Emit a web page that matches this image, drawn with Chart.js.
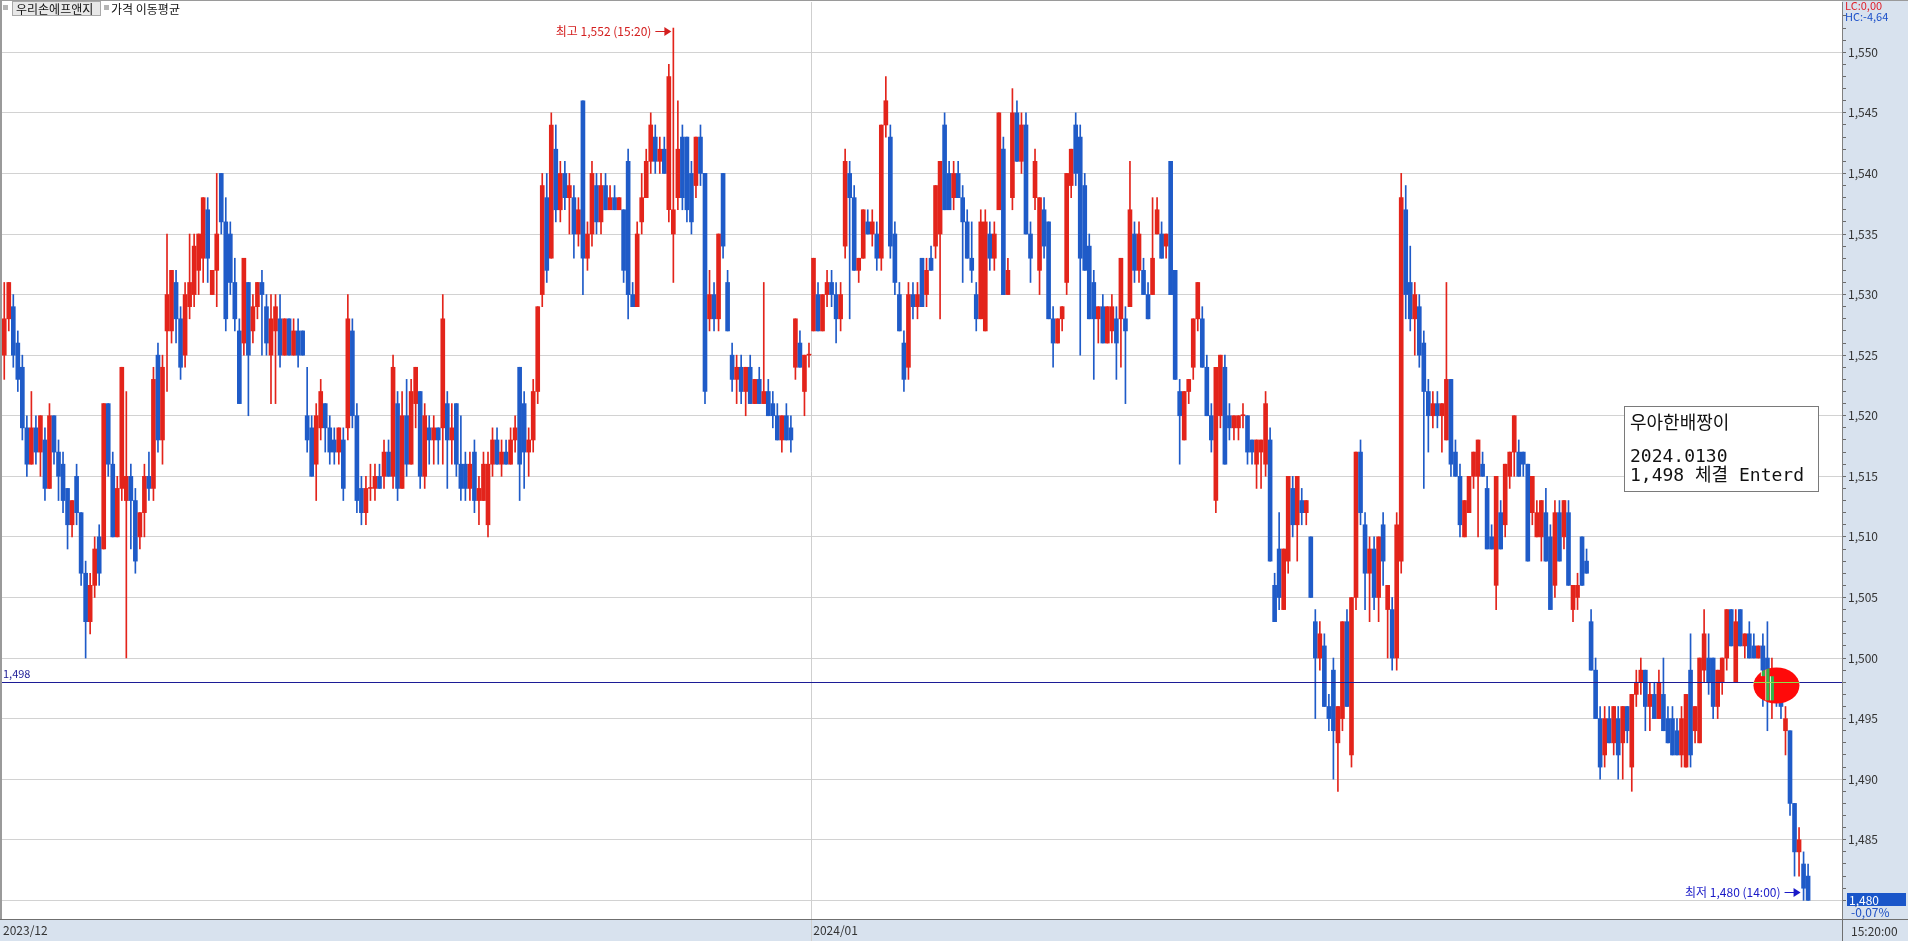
<!DOCTYPE html>
<html>
<head>
<meta charset="utf-8">
<title>우리손에프앤지</title>
<script src="https://cdn.jsdelivr.net/npm/chart.js@4.4.1/dist/chart.umd.min.js"></script>
<style>
  html, body { margin: 0; padding: 0; background: #fff; overflow: hidden; }
  canvas { display: block; }
</style>
</head>
<body>
<canvas id="myChart" width="1908" height="941"></canvas>
<script>
// candle data, one value per bar
const opens = [
  1525,1528,1529,1526,1524,1519,1516,1519,1517,1518,
  1514,1520,1517,1516,1514,1511,1515,1512,1507,1503,
  1506,1510,1509,1521,1516,1510,1514,1513,1515,1513,
  1510,1512,1515,1514,1525,1518,1527,1527,1531,1528,
  1525,1529,1530,1532,1533,1537,1530,1532,1540,1536,
  1535,1531,1527,1526,1531,1527,1529,1531,1529,1525,
  1527,1528,1525,1528,1525,1527,1527,1520,1519,1516,
  1519,1521,1519,1518,1517,1518,1519,1527,1520,1514,
  1512,1514,1514,1515,1515,1517,1515,1521,1514,1520,
  1516,1521,1522,1515,1519,1518,1519,1519,1521,1518,
  1521,1516,1516,1514,1517,1513,1513,1511,1516,1518,
  1516,1517,1516,1518,1524,1521,1517,1518,1522,1530,
  1538,1533,1542,1537,1540,1538,1538,1535,1546,1533,
  1535,1539,1536,1539,1537,1538,1537,1537,1541,1530,
  1529,1536,1538,1541,1543,1541,1542,1537,1535,1538,
  1543,1543,1540,1539,1543,1540,1528,1530,1528,1540,
  1531,1525,1523,1524,1522,1524,1521,1523,1521,1522,
  1521,1520,1518,1520,1519,1524,1526,1522,1525,1527,
  1530,1527,1530,1531,1530,1528,1534,1540,1538,1532,
  1533,1536,1535,1535,1533,1544,1543,1535,1530,1526,
  1524,1530,1529,1533,1530,1533,1534,1535,1544,1540,
  1538,1540,1538,1536,1533,1530,1528,1527,1535,1533,
  1537,1542,1530,1538,1545,1541,1544,1535,1538,1532,
  1537,1536,1528,1526,1528,1531,1539,1544,1543,1539,
  1534,1531,1528,1529,1526,1527,1528,1528,1528,1529,
  1535,1532,1532,1530,1530,1535,1535,1534,1541,1532,
  1522,1518,1522,1524,1528,1528,1524,1520,1513,1520,
  1524,1520,1519,1519,1520,1520,1518,1516,1517,1516,
  1518,1506,1509,1504,1508,1514,1511,1513,1512,1510,
  1503,1500,1501,1496,1499,1493,1495,1503,1492,1505,
  1517,1511,1507,1509,1505,1511,1504,1504,1500,1508,
  1537,1531,1528,1529,1526,1522,1520,1521,1520,1518,
  1523,1517,1515,1510,1512,1515,1515,1516,1514,1510,
  1506,1512,1511,1515,1517,1517,1517,1516,1512,1510,
  1510,1512,1510,1506,1512,1510,1512,1504,1505,1510,
  1508,1503,1499,1495,1492,1495,1493,1495,1493,1496,
  1491,1497,1498,1499,1496,1497,1495,1497,1495,1495,
  1494,1492,1491,1499,1494,1493,1499,1500,1500,1496,
  1498,1500,1504,1498,1504,1501,1502,1501,1500,1501,
  1500,1497,1498,1497,1494,1494,1488,1484,1483,1482
];
const highs = [
  1531,1531,1530,1527,1525,1520,1522,1520,1520,1519,
  1521,1520,1518,1517,1514,1513,1516,1512,1508,1507,
  1510,1511,1521,1521,1517,1515,1524,1522,1516,1514,
  1512,1516,1517,1524,1526,1525,1535,1532,1532,1529,
  1531,1535,1535,1535,1538,1538,1532,1540,1540,1538,
  1536,1533,1528,1533,1531,1530,1531,1532,1530,1530,
  1530,1530,1528,1528,1528,1528,1527,1524,1520,1521,
  1523,1521,1520,1519,1519,1519,1530,1528,1521,1515,
  1515,1516,1516,1516,1518,1518,1525,1522,1522,1523,
  1523,1524,1522,1521,1520,1520,1519,1530,1522,1521,
  1521,1520,1517,1517,1518,1515,1517,1517,1519,1519,
  1518,1518,1519,1520,1524,1522,1519,1523,1529,1540,
  1540,1545,1544,1541,1541,1540,1539,1538,1546,1536,
  1541,1540,1540,1540,1539,1539,1538,1537,1542,1531,
  1536,1540,1542,1545,1544,1543,1543,1549,1552,1546,
  1544,1543,1541,1543,1544,1540,1532,1531,1535,1540,
  1532,1526,1525,1525,1524,1525,1523,1524,1531,1523,
  1522,1521,1520,1521,1520,1528,1527,1525,1526,1533,
  1531,1530,1532,1532,1531,1531,1542,1541,1539,1533,
  1537,1537,1537,1536,1544,1548,1544,1536,1531,1527,
  1531,1531,1531,1533,1533,1534,1539,1541,1545,1541,
  1541,1541,1539,1537,1536,1531,1537,1537,1536,1536,
  1545,1543,1533,1547,1546,1545,1545,1536,1542,1538,
  1538,1536,1529,1528,1529,1540,1542,1545,1544,1540,
  1535,1532,1529,1530,1529,1530,1529,1533,1529,1541,
  1536,1536,1533,1531,1538,1538,1536,1535,1541,1532,
  1523,1522,1523,1528,1531,1529,1525,1521,1524,1525,
  1525,1521,1520,1520,1521,1520,1518,1518,1518,1522,
  1519,1507,1512,1509,1515,1515,1515,1514,1513,1510,
  1504,1503,1502,1497,1500,1496,1503,1504,1505,1517,
  1518,1512,1510,1510,1510,1512,1506,1505,1512,1540,
  1539,1534,1531,1530,1527,1523,1522,1522,1521,1531,
  1523,1518,1516,1513,1515,1517,1518,1517,1515,1511,
  1515,1513,1516,1517,1520,1518,1517,1516,1515,1513,
  1513,1514,1511,1513,1513,1513,1513,1506,1507,1510,
  1509,1504,1500,1496,1496,1496,1496,1496,1496,1496,
  1497,1499,1500,1499,1498,1498,1499,1500,1496,1496,
  1495,1496,1497,1502,1496,1500,1504,1502,1500,1499,
  1500,1504,1504,1504,1504,1502,1503,1502,1501,1502,
  1503,1500,1499,1498,1496,1494,1488,1486,1484,1483
];
const lows = [
  1523,1527,1524,1522,1518,1515,1516,1516,1515,1513,
  1514,1516,1513,1512,1509,1510,1511,1506,1500,1502,
  1505,1506,1509,1515,1510,1510,1513,1500,1509,1507,
  1509,1510,1513,1513,1517,1516,1522,1526,1526,1523,
  1524,1528,1529,1530,1531,1531,1530,1529,1535,1527,
  1530,1527,1521,1525,1520,1526,1528,1525,1525,1521,
  1521,1524,1525,1525,1525,1524,1525,1517,1515,1513,
  1518,1517,1516,1516,1516,1513,1518,1519,1512,1511,
  1511,1513,1513,1514,1514,1515,1514,1513,1514,1515,
  1516,1519,1514,1514,1516,1516,1516,1516,1514,1516,
  1515,1513,1513,1513,1512,1511,1513,1510,1515,1516,
  1515,1516,1516,1517,1513,1514,1515,1517,1521,1529,
  1531,1533,1536,1536,1537,1535,1533,1534,1530,1532,
  1534,1535,1535,1537,1537,1537,1537,1531,1528,1529,
  1529,1535,1538,1540,1540,1540,1540,1536,1531,1537,
  1537,1536,1535,1538,1539,1521,1527,1527,1527,1533,
  1527,1522,1521,1521,1520,1521,1521,1521,1521,1520,
  1519,1518,1517,1518,1517,1523,1524,1520,1524,1527,
  1527,1527,1529,1529,1526,1527,1533,1528,1532,1531,
  1533,1535,1534,1532,1532,1543,1533,1530,1527,1522,
  1523,1528,1528,1529,1529,1532,1533,1528,1537,1537,
  1537,1538,1531,1533,1531,1527,1528,1527,1532,1532,
  1537,1530,1530,1537,1541,1540,1535,1531,1537,1530,
  1533,1528,1524,1526,1527,1530,1538,1539,1525,1532,
  1528,1523,1526,1526,1526,1526,1523,1524,1521,1529,
  1531,1531,1530,1528,1530,1535,1533,1533,1530,1523,
  1516,1518,1521,1523,1527,1524,1520,1517,1512,1519,
  1516,1518,1518,1518,1519,1516,1516,1514,1514,1515,
  1508,1503,1504,1504,1507,1510,1508,1511,1511,1505,
  1495,1499,1496,1494,1490,1489,1494,1496,1491,1504,
  1511,1504,1503,1504,1503,1506,1500,1499,1499,1507,
  1528,1527,1525,1524,1514,1517,1519,1519,1517,1518,
  1515,1515,1510,1510,1512,1514,1510,1515,1509,1509,
  1504,1509,1510,1514,1515,1515,1515,1508,1511,1510,
  1508,1508,1504,1505,1508,1509,1506,1503,1504,1506,
  1507,1499,1495,1490,1491,1493,1492,1490,1490,1493,
  1489,1496,1497,1494,1494,1495,1495,1494,1493,1492,
  1492,1491,1491,1491,1493,1493,1498,1497,1495,1495,
  1497,1499,1501,1498,1501,1500,1500,1500,1500,1496,
  1494,1495,1496,1495,1492,1487,1482,1482,1480,1480
];
const closes = [
  1528,1531,1525,1523,1519,1516,1519,1517,1520,1514,
  1520,1517,1515,1513,1511,1513,1512,1507,1503,1506,
  1509,1507,1521,1516,1510,1514,1524,1515,1513,1508,
  1512,1515,1514,1523,1518,1524,1530,1532,1528,1524,
  1530,1531,1534,1535,1538,1533,1532,1535,1536,1528,
  1531,1528,1521,1533,1525,1529,1531,1530,1526,1528,
  1529,1525,1528,1525,1527,1525,1525,1518,1515,1520,
  1522,1519,1517,1517,1519,1514,1528,1520,1513,1512,
  1514,1514,1515,1514,1517,1515,1524,1514,1520,1516,
  1522,1524,1515,1520,1518,1519,1518,1528,1518,1519,
  1516,1514,1514,1516,1513,1514,1516,1516,1518,1516,
  1517,1516,1518,1519,1516,1517,1518,1522,1529,1539,
  1532,1544,1537,1540,1538,1539,1535,1537,1533,1535,
  1540,1536,1539,1537,1538,1537,1538,1532,1530,1529,
  1535,1538,1541,1544,1541,1542,1540,1548,1537,1542,
  1538,1537,1536,1543,1540,1522,1530,1528,1535,1534,
  1527,1523,1524,1522,1524,1521,1523,1521,1522,1520,
  1520,1518,1520,1518,1518,1528,1524,1525,1525,1533,
  1527,1530,1531,1530,1528,1530,1541,1538,1532,1533,
  1537,1535,1536,1533,1544,1546,1534,1531,1527,1523,
  1530,1529,1530,1529,1532,1532,1539,1541,1537,1537,
  1540,1538,1536,1533,1532,1528,1536,1536,1533,1535,
  1545,1530,1532,1545,1541,1544,1535,1533,1541,1538,
  1534,1528,1526,1528,1529,1540,1542,1540,1533,1532,
  1528,1528,1529,1526,1529,1529,1526,1533,1527,1537,
  1532,1535,1530,1528,1533,1537,1533,1535,1530,1523,
  1520,1522,1523,1528,1531,1524,1520,1518,1524,1525,
  1516,1519,1520,1520,1520,1517,1517,1518,1518,1521,
  1508,1503,1505,1509,1515,1511,1515,1512,1513,1505,
  1500,1502,1496,1495,1494,1496,1503,1496,1505,1517,
  1512,1507,1509,1505,1510,1508,1506,1500,1511,1538,
  1530,1528,1530,1525,1522,1520,1521,1520,1521,1523,
  1516,1515,1511,1513,1515,1517,1518,1515,1509,1509,
  1515,1509,1516,1517,1520,1515,1516,1508,1515,1512,
  1513,1508,1504,1512,1508,1513,1506,1506,1506,1506,
  1507,1499,1495,1491,1495,1493,1496,1492,1496,1494,
  1497,1498,1499,1496,1497,1495,1498,1494,1493,1492,
  1492,1495,1497,1492,1496,1500,1502,1498,1496,1499,
  1500,1504,1501,1503,1501,1502,1500,1500,1501,1499,
  1497,1498,1497,1496,1495,1488,1484,1485,1481,1480
];

// x axis: bar slots (last few are empty space), month labels by bar index
const slotCount = 407;
const monthTicks = [
  { index: 0, text: "2023/12" },
  { index: 179, text: "2024/01" }
];

// y axis range and marks
const yMin = 1478.46;
const yMax = 1554.15;
const entryPrice = 1498;
const highMark = { index: 148, price: 1552, text: "최고 1,552 (15:20)" };
const lowMark = { index: 398, price: 1480, text: "최저 1,480 (14:00)" };
const memoLines = ["우아한배짱이", "", "2024.0130", "1,498 체결 Enterd"];
const ellipseIndex = 392;

const UP = "#e3241b";
const DOWN = "#1f5bc8";
const PANEL = "#d8e2ee";
const NARROW = "'Liberation Sans Narrow', 'Noto Sans CJK KR', sans-serif";
const KR = "'Noto Sans CJK KR', sans-serif";
const MONO = "'DejaVu Sans Mono', 'Noto Sans CJK KR', monospace";

const labels = Array.from({ length: slotCount }, (_, i) => String(i));
const colors = closes.map((c, i) => {
  if (c > opens[i]) return UP;
  if (c < opens[i]) return DOWN;
  return i > 0 && c < closes[i - 1] ? DOWN : UP;
});

function arrow(ctx, x1, x2, y, color) {
  ctx.strokeStyle = color;
  ctx.fillStyle = color;
  ctx.lineWidth = 1;
  ctx.beginPath();
  ctx.moveTo(x1, y + 0.5);
  ctx.lineTo(x2 - 5, y + 0.5);
  ctx.stroke();
  ctx.beginPath();
  ctx.moveTo(x2, y + 0.5);
  ctx.lineTo(x2 - 7, y - 4);
  ctx.lineTo(x2 - 7, y + 5);
  ctx.closePath();
  ctx.fill();
}

const chartDecor = {
  id: "chartDecor",
  beforeDraw(chart) {
    const { ctx, chartArea: a } = chart;
    const W = chart.width, H = chart.height;
    ctx.save();
    ctx.fillStyle = "#ffffff";
    ctx.fillRect(0, 0, W, H);
    ctx.fillStyle = PANEL;
    ctx.fillRect(a.right, 0, W - a.right, H);
    ctx.fillRect(0, a.bottom + 1, W, H - a.bottom);
    ctx.restore();
  },
  beforeDatasetsDraw(chart) {
    const { ctx, chartArea: a } = chart;
    const xs = chart.scales.x;
    const slot = (a.right - a.left) / slotCount;
    ctx.save();
    ctx.strokeStyle = "#cfcfcf";
    ctx.lineWidth = 1;
    monthTicks.forEach(m => {
      if (m.index === 0) return;
      const x = Math.round(xs.getPixelForValue(m.index) - slot / 2) + 0.5;
      ctx.beginPath();
      ctx.moveTo(x, a.top);
      ctx.lineTo(x, chart.height);
      ctx.stroke();
    });
    ctx.restore();
  },
  afterDraw(chart) {
    const { ctx, chartArea: a } = chart;
    const xs = chart.scales.x, ys = chart.scales.y;
    const W = chart.width, H = chart.height;
    const slot = (a.right - a.left) / slotCount;
    ctx.save();

    // frame
    ctx.fillStyle = "#9a9a9a";
    ctx.fillRect(0, 0, 2, a.bottom);
    ctx.fillRect(0, 0, W, 1);
    ctx.fillStyle = "#6f6f6f";
    ctx.fillRect(0, a.bottom, W, 1);
    ctx.fillRect(Math.round(a.right), a.bottom, 1, H - a.bottom);

    // month labels
    ctx.font = "12px " + NARROW;
    ctx.fillStyle = "#333";
    ctx.textBaseline = "middle";
    ctx.textAlign = "left";
    monthTicks.forEach(m => {
      const x = m.index === 0 ? 3 : xs.getPixelForValue(m.index) - slot / 2 + 2;
      ctx.fillText(m.text, x, a.bottom + 11);
    });
    ctx.fillText("15:20:00", a.right + 9, a.bottom + 12);

    // entry price line
    const ye = Math.round(ys.getPixelForValue(entryPrice)) + 0.5;
    ctx.strokeStyle = "#1c1c96";
    ctx.lineWidth = 1;
    ctx.beginPath();
    ctx.moveTo(a.left, ye);
    ctx.lineTo(a.right, ye);
    ctx.stroke();
    ctx.font = "11px " + NARROW;
    ctx.fillStyle = "#1c1c96";
    ctx.fillText("1,498", 3, ye - 9);

    // marked order (ellipse)
    const ex = xs.getPixelForValue(ellipseIndex);
    const ey = ye + 3;
    ctx.fillStyle = "#ff0a0a";
    ctx.beginPath();
    ctx.ellipse(ex, ey, 23, 18, 0, 0, Math.PI * 2);
    ctx.fill();
    ctx.save();
    ctx.clip();
    for (let i = ellipseIndex - 3; i <= ellipseIndex - 1; i++) {
      const x = xs.getPixelForValue(i);
      const y1 = ys.getPixelForValue(Math.max(opens[i], closes[i]));
      const y2 = ys.getPixelForValue(Math.min(opens[i], closes[i]));
      ctx.fillStyle = "#f4fff0";
      ctx.fillRect(x - 2, y1 - 6, 1, y2 - y1 + 12);
      ctx.fillStyle = "#2fb84a";
      ctx.fillRect(x - 1, y1 - 6, 3, y2 - y1 + 12);
    }
    ctx.restore();
    ctx.strokeStyle = "#8ee04a";
    ctx.beginPath();
    ctx.moveTo(ex - 23, ye);
    ctx.lineTo(ex + 23, ye);
    ctx.stroke();

    // high / low marks
    ctx.font = "12px " + KR;
    ctx.textAlign = "right";
    const hx = xs.getPixelForValue(highMark.index) - 2;
    const hy = Math.round(ys.getPixelForValue(highMark.price)) + 3;
    ctx.fillStyle = "#d42020";
    ctx.fillText(highMark.text, hx - 20, hy);
    arrow(ctx, hx - 16, hx, hy, "#d42020");

    const lx = xs.getPixelForValue(lowMark.index) - 3;
    const ly = Math.round(ys.getPixelForValue(lowMark.price)) - 8;
    ctx.fillStyle = "#1a1ac8";
    ctx.fillText(lowMark.text, lx - 20, ly);
    arrow(ctx, lx - 16, lx, ly, "#1a1ac8");

    // memo box
    ctx.fillStyle = "#ffffff";
    ctx.fillRect(1624, 406, 194, 85);
    ctx.strokeStyle = "#7a7a7a";
    ctx.lineWidth = 1;
    ctx.strokeRect(1624.5, 406.5, 194, 85);
    ctx.fillStyle = "#111";
    ctx.textAlign = "left";
    ctx.textBaseline = "alphabetic";
    ctx.font = "18px " + MONO;
    memoLines.forEach((t, i) => {
      if (t) ctx.fillText(t, 1630, 429 + i * 18.5 - (i > 1 ? 4 : 0));
    });

    // top legend
    ctx.textBaseline = "middle";
    ctx.fillStyle = "#b5b5b5";
    ctx.fillRect(3, 5, 5, 5);
    ctx.fillRect(104, 5, 5, 5);
    ctx.fillStyle = "#e8e8e8";
    ctx.fillRect(12, 1, 89, 15);
    ctx.strokeStyle = "#a9a9a9";
    ctx.strokeRect(12.5, 1.5, 88, 14);
    ctx.fillStyle = "#111";
    ctx.font = "12px " + KR;
    ctx.fillText("우리손에프앤지", 16, 9);
    ctx.fillText("가격 이동평균", 111, 9);

    // right panel texts
    ctx.font = "11px " + NARROW;
    ctx.fillStyle = "#e0202a";
    ctx.fillText("LC:0,00", a.right + 3, 6);
    ctx.fillStyle = "#1a4fc9";
    ctx.fillText("HC:-4,64", a.right + 3, 17);

    const py = Math.round(ys.getPixelForValue(closes[closes.length - 1]));
    ctx.fillStyle = "#1a56c9";
    ctx.fillRect(a.right + 5, py - 7, 59, 13);
    ctx.font = "12px " + NARROW;
    ctx.fillStyle = "#ffffff";
    ctx.fillText("1,480", a.right + 7, py);
    ctx.fillStyle = "#1d4fc4";
    ctx.fillText("-0,07%", a.right + 9, py + 12);

    ctx.restore();
  }
};

const data = {
  labels,
  datasets: [
    {
      label: "body",
      data: opens.map((o, i) => [o, closes[i]]),
      backgroundColor: colors,
      barThickness: 4,
      minBarLength: 1,
      grouped: false,
      order: 1
    },
    {
      label: "wick",
      data: lows.map((l, i) => [l, highs[i]]),
      backgroundColor: colors,
      barThickness: 1,
      grouped: false,
      order: 2
    }
  ]
};

const config = {
  type: "bar",
  data: data,
  options: {
    responsive: false,
    animation: false,
    layout: { padding: { left: 2, top: 2, right: 0, bottom: 22 } },
    plugins: {
      legend: { display: false },
      tooltip: { enabled: false }
    },
    scales: {
      x: {
        type: "category",
        display: false,
        offset: true
      },
      y: {
        position: "right",
        min: yMin,
        max: yMax,
        afterBuildTicks: (s) => {
          s.ticks = s.ticks.filter(t => Number.isInteger(t.value));
        },
        afterFit: (s) => {
          s.width = 66;
          s.paddingTop = 0;
          s.paddingBottom = 0;
        },
        border: { color: "#808080" },
        grid: {
          color: (c) => (c.tick && c.tick.value % 5 === 0) ? "#d2d2d2" : "rgba(0,0,0,0)",
          tickColor: "#6a6a6a",
          tickLength: 4
        },
        ticks: {
          stepSize: 1,
          autoSkip: false,
          padding: 2,
          color: "#333",
          font: { family: NARROW, size: 12 },
          callback: (v) => v % 5 === 0 ? v.toLocaleString("en-US") : ""
        }
      }
    }
  },
  plugins: [chartDecor]
};

const myChart = new Chart(document.getElementById("myChart").getContext("2d"), config);
</script>
</body>
</html>
